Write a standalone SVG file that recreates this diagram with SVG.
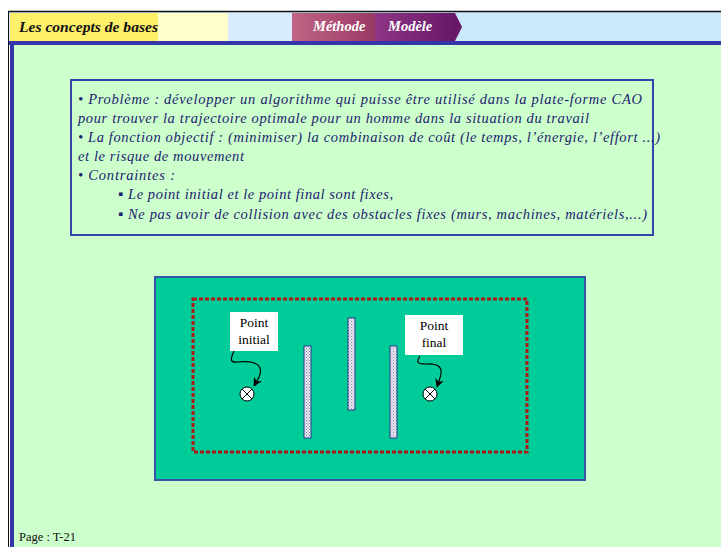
<svg xmlns="http://www.w3.org/2000/svg" width="721" height="547" viewBox="0 0 721 547">
<defs>
<style>
.ti{font-family:"Liberation Serif","DejaVu Serif",serif;font-style:italic;font-size:14.5px;fill:#1c1c6e}
.lab{font-family:"Liberation Serif","DejaVu Serif",serif;font-size:13.5px;fill:#000}
.tab{font-family:"Liberation Serif","DejaVu Serif",serif;font-style:italic;font-weight:bold;font-size:14.5px;fill:#fff}
.wall{fill:url(#dots);stroke:#2a3a88;stroke-width:1}
.conn{fill:none;stroke:#000;stroke-width:1.2}
</style>
<pattern id="dots" width="3" height="3" patternUnits="userSpaceOnUse">
<rect width="3" height="3" fill="#e8e8f4"/>
<rect x="0" y="0" width="1" height="1" fill="#8888aa"/>
<rect x="1.5" y="1.5" width="1" height="1" fill="#9999bb"/>
</pattern>
<linearGradient id="gMeth" x1="0" y1="0" x2="1" y2="0">
<stop offset="0" stop-color="#c06585"/><stop offset="1" stop-color="#9a3a66"/>
</linearGradient>
<linearGradient id="gMod" x1="0" y1="0" x2="1" y2="0">
<stop offset="0" stop-color="#8e3585"/><stop offset="1" stop-color="#651665"/>
</linearGradient>
<marker id="ah" viewBox="0 0 10 10" refX="9" refY="5" markerWidth="9" markerHeight="9" orient="auto" markerUnits="userSpaceOnUse">
<path d="M0,0 L10,5 L0,10 L3,5 Z" fill="#000"/>
</marker>
</defs>
<rect width="721" height="547" fill="#fff"/>
<g id="header">
<rect x="8" y="12" width="713" height="30" fill="#cce8fb"/>
<rect x="10" y="13" width="148" height="28" fill="#fff06a"/>
<rect x="158" y="13" width="70" height="28" fill="#ffffcc"/>
<rect x="228" y="13" width="64" height="28" fill="#d8ecfb"/>
<line x1="8" y1="11.5" x2="721" y2="11.5" stroke="#111" stroke-width="1.5"/>
<text x="19" y="32" font-family="Liberation Serif, serif" font-style="italic" font-weight="bold" font-size="15.5" fill="#111" textLength="139" lengthAdjust="spacingAndGlyphs">Les concepts de bases</text>
</g>
<g id="tab-methode">
<rect x="292" y="13" width="83" height="28" fill="url(#gMeth)"/>
<text class="tab" x="313" y="31">Méthode</text>
</g>
<g id="tab-modele">
<path d="M375,13 L455,13 L462,27 L455,41 L375,41 Z" fill="url(#gMod)"/>
<text class="tab" x="388" y="31">Modèle</text>
</g>
<rect x="13" y="44" width="708" height="503" fill="#ccffcc"/>
<rect x="8" y="41" width="713" height="4" fill="#3535aa"/>
<rect x="10" y="41" width="4" height="506" fill="#3535aa"/>
<line x1="8.5" y1="12" x2="8.5" y2="547" stroke="#111" stroke-width="1"/>
<g id="textbox">
<rect x="71" y="80" width="582" height="155" fill="#ccffcc" stroke="#3344aa" stroke-width="2"/>
<text class="ti" x="78" y="104" textLength="564" lengthAdjust="spacing">• Problème :  développer un algorithme qui puisse être utilisé dans la plate-forme CAO</text>
<text class="ti" x="78" y="123" textLength="511" lengthAdjust="spacing">pour trouver la trajectoire optimale pour un homme dans la situation du travail</text>
<text class="ti" x="78" y="142" textLength="582" lengthAdjust="spacing">• La fonction objectif : (minimiser) la combinaison de coût (le temps, l’énergie, l’effort ...)</text>
<text class="ti" x="78" y="161" textLength="166" lengthAdjust="spacing">et le risque de mouvement</text>
<text class="ti" x="78" y="180" textLength="97" lengthAdjust="spacing">• Contraintes :</text>
<text class="ti" x="118" y="199">▪</text>
<text class="ti" x="128" y="199" textLength="265" lengthAdjust="spacing">Le point initial et le point final sont fixes,</text>
<text class="ti" x="118" y="219">▪</text>
<text class="ti" x="128" y="219" textLength="519" lengthAdjust="spacing">Ne pas avoir de collision avec des obstacles fixes (murs, machines, matériels,...)</text>
</g>
<g id="scene">
<rect x="155" y="277" width="430" height="203" fill="#00cc99" stroke="#3355aa" stroke-width="2"/>
<rect x="193" y="299" width="334" height="153" fill="none" stroke="#b01818" stroke-width="3" stroke-dasharray="4,2"/>
</g>
<g id="wall-1"><rect class="wall" x="304" y="346" width="7" height="92"/></g>
<g id="wall-2"><rect class="wall" x="348" y="318" width="7" height="92"/></g>
<g id="wall-3"><rect class="wall" x="390" y="346" width="7" height="92"/></g>
<g id="point-initial">
<rect x="230" y="312" width="48" height="39" fill="#fff"/>
<text class="lab" x="254" y="327" text-anchor="middle">Point</text>
<text class="lab" x="254" y="344" text-anchor="middle">initial</text>
</g>
<g id="start">
<circle cx="247" cy="394" r="7" fill="#fff" stroke="#000" stroke-width="1"/>
<path d="M242,389 L252,399 M252,389 L242,399" stroke="#000" stroke-width="1"/>
</g>
<g id="point-final">
<rect x="405" y="315" width="58" height="40" fill="#fff"/>
<text class="lab" x="434" y="330" text-anchor="middle">Point</text>
<text class="lab" x="434" y="347" text-anchor="middle">final</text>
</g>
<g id="end">
<circle cx="430" cy="394" r="7" fill="#fff" stroke="#000" stroke-width="1"/>
<path d="M425,389 L435,399 M435,389 L425,399" stroke="#000" stroke-width="1"/>
</g>
<g id="connectors">
<path class="conn" d="M234,351 C230,360 230,363 238,362 C260,360 263,368 259,377 L254,386" marker-end="url(#ah)"/>
<path class="conn" d="M420,356 C416,362 417,364 425,364 C441,363 443,369 440,378 L437,387" marker-end="url(#ah)"/>
</g>
<g id="footer">
<text x="19" y="541" font-family="Liberation Serif, serif" font-size="12.5" fill="#111">Page : T-21</text>
</g>
</svg>
